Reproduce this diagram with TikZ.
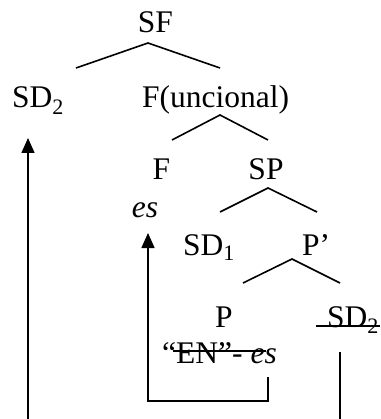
\documentclass[tikz,border=0pt]{standalone}
\usepackage{fontspec}
\setmainfont{Liberation Serif}
\usetikzlibrary{arrows.meta}

\tikzset{
  lbl/.style={inner sep=0pt,font=\fontsize{31.5}{36}\selectfont},
  branch/.style={line width=1.6pt},
  movearrow/.style={line width=1.6pt,-{Triangle[length=15pt,width=13pt]}}
}

\begin{document}
\begin{tikzpicture}[x=1pt,y=-1pt]
\useasboundingbox (0,0) rectangle (380,419);

% Top - SF and its daughters
\node[lbl,anchor=base] (sf) at (155.5,33) {SF};
\node[lbl,anchor=base west] (sdhigh) at (12,108) {SD\textsubscript{2}};
\node[lbl,anchor=base west] (fun) at (142,108) {F(uncional)};
\coordinate (sf-top) at (148,43);
\coordinate (sf-l) at (76,68);
\coordinate (sf-r) at (220,68);
\draw[branch] (sf-l) -- (sf-top) -- (sf-r);

% F(uncional) -> F, SP
\node[lbl,anchor=base] (f) at (161.5,180) {F};
\node[lbl,anchor=base] (es) at (145,217) {\textit{es}};
\node[lbl,anchor=base] (sp) at (266,180) {SP};
\coordinate (fun-top) at (220,115);
\coordinate (fun-l) at (172,140);
\coordinate (fun-r) at (268,140);
\draw[branch] (fun-l) -- (fun-top) -- (fun-r);

% SP -> SD1, P'
\node[lbl,anchor=base west] (sdone) at (183,255) {SD\textsubscript{1}};
\node[lbl,anchor=base west] (pbar) at (302,255) {P'};
\coordinate (sp-top) at (268,188);
\coordinate (sp-l) at (220,212);
\coordinate (sp-r) at (317,212);
\draw[branch] (sp-l) -- (sp-top) -- (sp-r);

% P' -> P, SD2 (copy)
\node[lbl,anchor=base] (p) at (224,327) {P};
\node[lbl,anchor=base west] (en) at (162,363) {``EN''- \textit{es}};
\node[lbl,anchor=base west] (sdlow) at (327,327) {SD\textsubscript{2}};
\coordinate (pbar-top) at (292,259);
\coordinate (pbar-l) at (243,283);
\coordinate (pbar-r) at (340,283);
\draw[branch] (pbar-l) -- (pbar-top) -- (pbar-r);

% struck-out material
\draw[branch] (173,351) -- (266,351);
\draw[branch] (316,326) -- (380,326);

% Movements
\coordinate (sd-foot) at (28,419);
\coordinate (sd-land) at (28,138);
\draw[movearrow] (sd-foot) -- (sd-land);

\coordinate (es-start) at (268,377);
\coordinate (es-land) at (148,233);
\draw[movearrow] (es-start) -- (268,401) -- (148,401) -- (es-land);

\coordinate (low-start) at (340,352);
\coordinate (low-foot) at (340,419);
\draw[branch] (low-start) -- (low-foot);
\end{tikzpicture}
\end{document}
